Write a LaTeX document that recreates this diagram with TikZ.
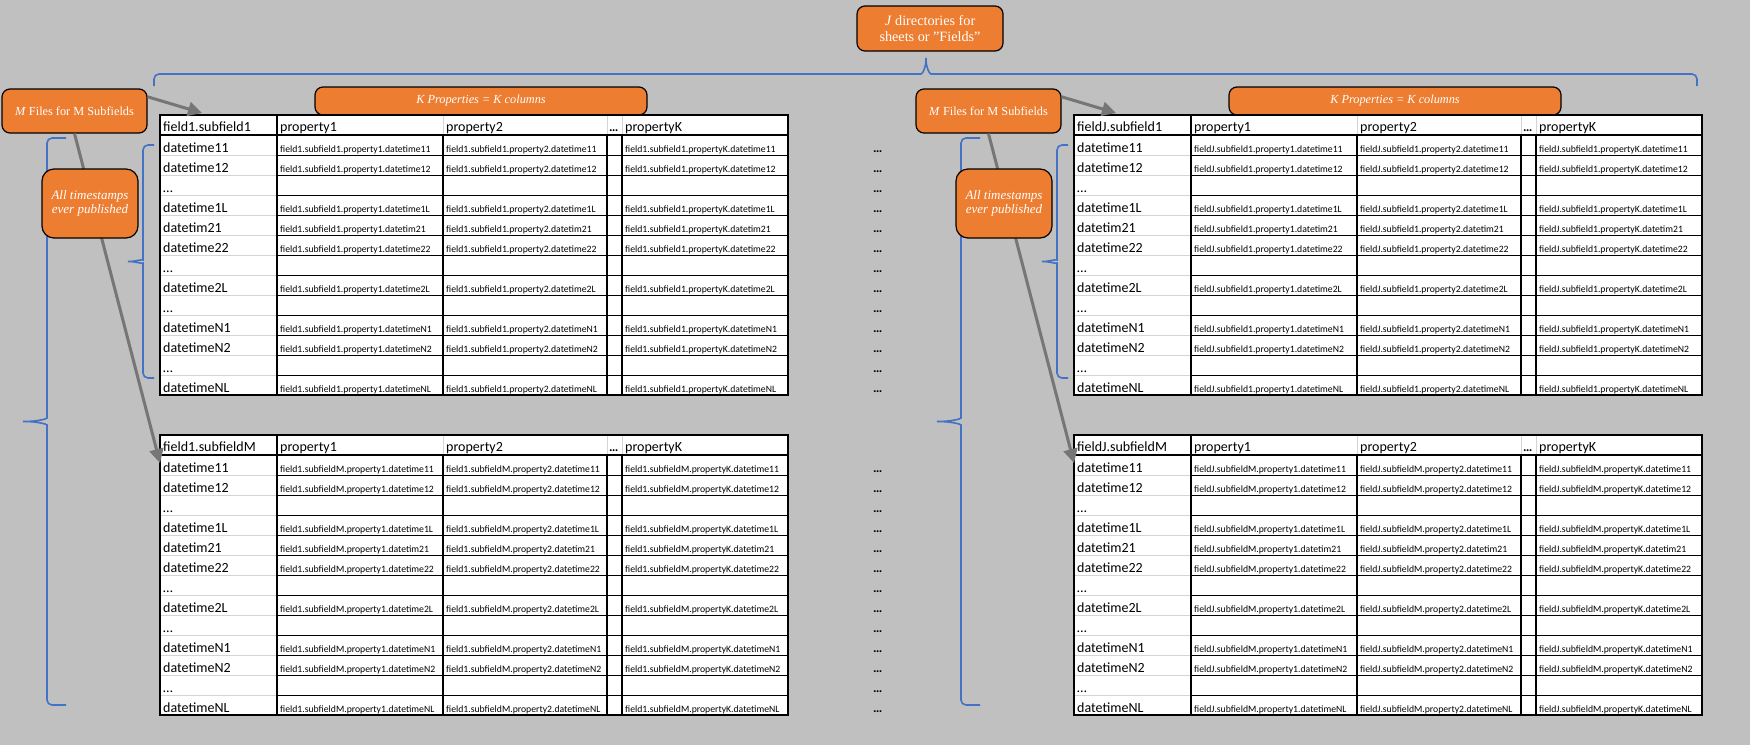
\documentclass[tikz,border=0pt]{standalone}
\usepackage{fontspec}
\setmainfont{Liberation Serif}
\newfontfamily\calibri{Carlito}
\usetikzlibrary{arrows.meta}

\definecolor{sheetgray}{HTML}{C0C0C0}
\definecolor{officeorange}{HTML}{ED7D31}
\definecolor{officeblue}{HTML}{4472C4}
\definecolor{arrowgray}{HTML}{767676}
\definecolor{gridgray}{HTML}{D4D4D4}

\tikzset{
  callout/.style={draw=black, line width=1.2pt, fill=officeorange, rounded corners=8pt,
    text=white, align=center, inner sep=0pt, font=\fontsize{12.3}{14.5}\selectfont},
  bracket/.style={draw=officeblue, line width=1.6pt, rounded corners=5pt},
  pointer/.style={draw=arrowgray, line width=3pt, -{Triangle[length=14pt,width=14pt]}},
  cellhead/.style={anchor=base west, inner sep=0pt, font=\calibri\fontsize{14}{16}\selectfont},
  celldata/.style={anchor=base west, inner sep=0pt, font=\calibri\fontsize{9.7}{11}\selectfont},
}

\begin{document}
\begin{tikzpicture}[x=1pt, y=-1pt]
  \useasboundingbox (0,0) rectangle (1750,745);
  \fill[sheetgray] (0,0) rectangle (1750,745);

  % Brace over the J fields
  \draw[bracket] (154,86) -- (154,74) -- (916,74) .. controls (923,74) and (926,66) .. (926,55)
    .. controls (926,66) and (929,74) .. (936,74) -- (1697,74) -- (1697,86);
  \node[callout, minimum width=146pt, minimum height=45pt, font=\fontsize{14.2}{15.5}\selectfont] (jdirs) at (930,28.5)
    {\textit{J} directories for\\sheets or "Fields"};

  \foreach \g/\fld/\side in {0/1/L, 914/J/R} {
    \begin{scope}[xshift=\g pt]
      % Braces for the timestamps
      \draw[bracket] (66,138) -- (47,138) -- (47,413) .. controls (47,419) and (36,421.5) .. (20,421.5)
        .. controls (36,421.5) and (47,424) .. (47,430) -- (47,705) -- (66,705);
      \draw[bracket] (154,145) -- (143,145) -- (143,255) .. controls (143,259) and (134,261.5) .. (125,261.5)
        .. controls (134,261.5) and (143,264) .. (143,268) -- (143,378) -- (154,378);

      \node[callout, minimum width=332pt, minimum height=28pt] (kprops\side) at (481,101)
        {\textit{K Properties = K columns}};

      % Subfield tables
      \foreach \sub/\ty in {1/115, M/435} {
        \begin{scope}[shift={(160,\ty)}]
          \fill[white] (0,0) rectangle (628,280);
          \foreach \r in {0,...,11} {
            \draw[gridgray, line width=1pt] (0,{40+20*\r}) -- (117,{40+20*\r});
            \draw[black, line width=1pt] (117,{40+20*\r}) -- (628,{40+20*\r});
          }
          \foreach \c in {283,447,462} {
            \draw[gridgray, line width=1pt] (\c,0) -- (\c,20);
            \draw[black, line width=1.3pt] (\c,20) -- (\c,280);
          }
          \draw[line width=2pt] (117,0) -- (117,280);
          \draw[line width=2pt] (0,20) -- (628,20);
          \draw[line width=2pt] (0,0) rectangle (628,280);
          % Header row
          \node[cellhead] (head\side\sub) at (3,16) {field\fld.subfield\sub};
          \node[cellhead] (propa\side\sub) at (120,16) {property1};
          \node[cellhead] (propb\side\sub) at (286,16) {property2};
          \node[cellhead, font=\calibri\bfseries\fontsize{13}{16}\selectfont] (propdots\side\sub) at (449,16) {…};
          \node[cellhead] (propk\side\sub) at (465,16) {propertyK};
          % Timestamp rows
          \foreach \lab/\full [count=\r from 0] in {datetime11/1, datetime12/1, …/0, datetime1L/1,
              datetim21/1, datetime22/1, …/0, datetime2L/1, …/0, datetimeN1/1, datetimeN2/1, …/0, datetimeNL/1} {
            \node[cellhead] (stamp\side\sub\r) at (3,{37.5+20*\r}) {\lab};
            \ifnum\full=1
              \node[celldata] (vala\side\sub\r) at (120,{37.5+20*\r}) {field\fld.subfield\sub.property1.\lab};
              \node[celldata] (valb\side\sub\r) at (286,{37.5+20*\r}) {field\fld.subfield\sub.property2.\lab};
              \node[celldata] (valk\side\sub\r) at (465,{37.5+20*\r}) {field\fld.subfield\sub.propertyK.\lab};
            \fi
            \ifnum\g=0
              \node[cellhead, font=\calibri\bfseries\fontsize{13}{16}\selectfont] (more\sub\r) at (713,{37.5+20*\r}) {…};
            \fi
          }
        \end{scope}
      }

      % Files for the subfields
      \node[callout, minimum width=145pt, minimum height=44pt] (mfiles\side) at (74.5,111)
        {\textit{M} Files for M Subfields};
      \coordinate (top\side) at (202,113);
      \coordinate (low\side) at (160,463);
      \draw[pointer] (mfiles\side.11) -- (top\side);
      \draw[pointer] (mfiles\side.south) -- (low\side);
      \node[callout, rounded corners=12pt, minimum width=96pt, minimum height=69pt,
        font=\fontsize{13}{14.5}\selectfont] (stamps\side) at (90,203.5)
        {\textit{All timestamps}\\\textit{ever published}};
    \end{scope}
  }
\end{tikzpicture}
\end{document}
